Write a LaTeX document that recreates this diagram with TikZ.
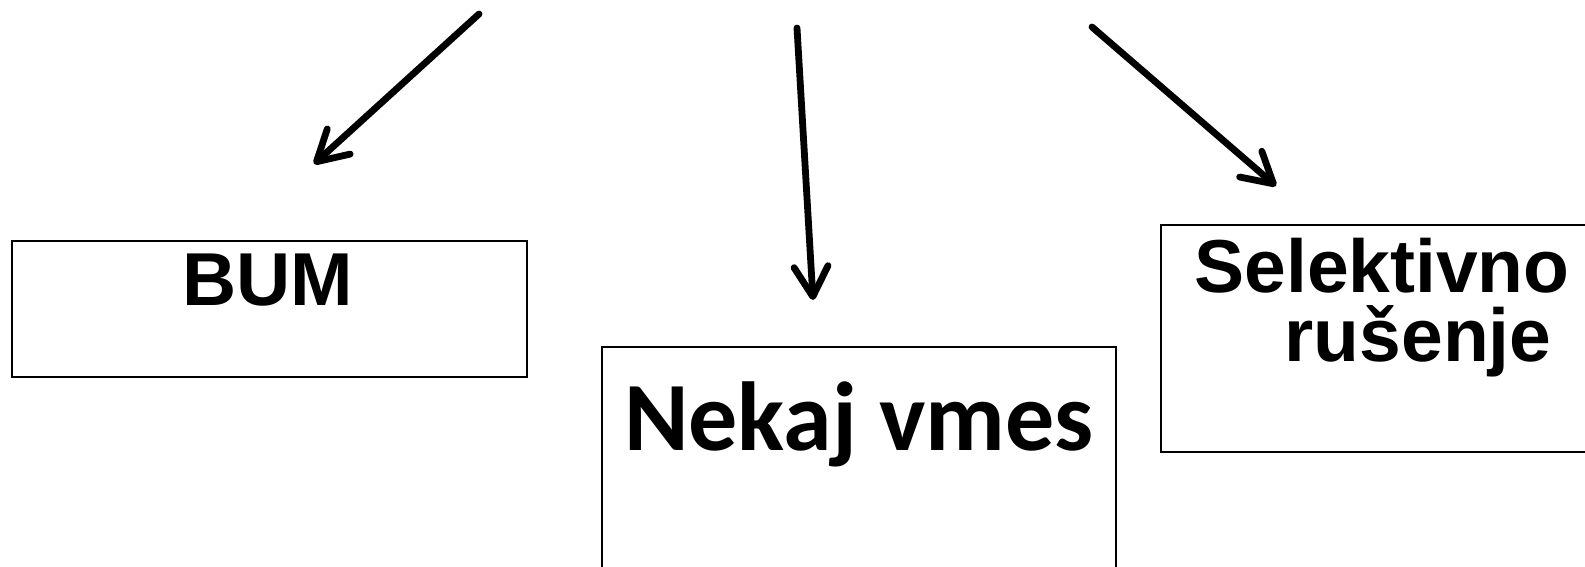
\documentclass[tikz,border=0pt]{standalone}
\usepackage{fontspec}
\setmainfont{Liberation Sans}
\newfontfamily\calfont{Carlito}
\usetikzlibrary{arrows.meta}
\tikzset{
  box/.style={draw=black, line width=0.75pt, inner sep=0pt, anchor=north west},
  conn/.style={line width=3.4pt, line cap=round, -{Straight Barb[length=15pt,width=17pt,round]}},
  arialtxt/.style={font=\fontsize{37.5}{34.5}\selectfont\bfseries, inner sep=0pt, anchor=base},
  caltxt/.style={font=\calfont\fontsize{49}{58}\selectfont\bfseries, inner sep=0pt, anchor=base},
}
\begin{document}
\begin{tikzpicture}[x=0.5pt,y=-0.5pt]
\useasboundingbox (0,0) rectangle (1585,567);
% boxes
\node[box, minimum width=515*0.5pt, minimum height=136*0.5pt] (bum) at (11,240) {};
\node[box, minimum width=514*0.5pt, minimum height=260*0.5pt] (vmes) at (601,346) {};
\node[box, minimum width=460*0.5pt, minimum height=227*0.5pt] (sel) at (1160,224) {};
% texts
\node[arialtxt] (tbum) at (268,305) {BUM};
\node[caltxt] (tvmes) at (859,450) {Nekaj vmes};
\node[arialtxt, align=center] (tsel) at (1382,361) {Selektivno\\\hspace*{36pt}rušenje};
% arrow endpoints
\coordinate (a1s) at (479,14);
\coordinate (a1e) at (314,164);
\coordinate (a2s) at (797,28);
\coordinate (a2e) at (813,300);
\coordinate (a3s) at (1092,27);
\coordinate (a3e) at (1276,186);
\draw[conn] (a1s) -- (a1e);
\draw[conn] (a2s) -- (a2e);
\draw[conn] (a3s) -- (a3e);
\end{tikzpicture}
\end{document}
